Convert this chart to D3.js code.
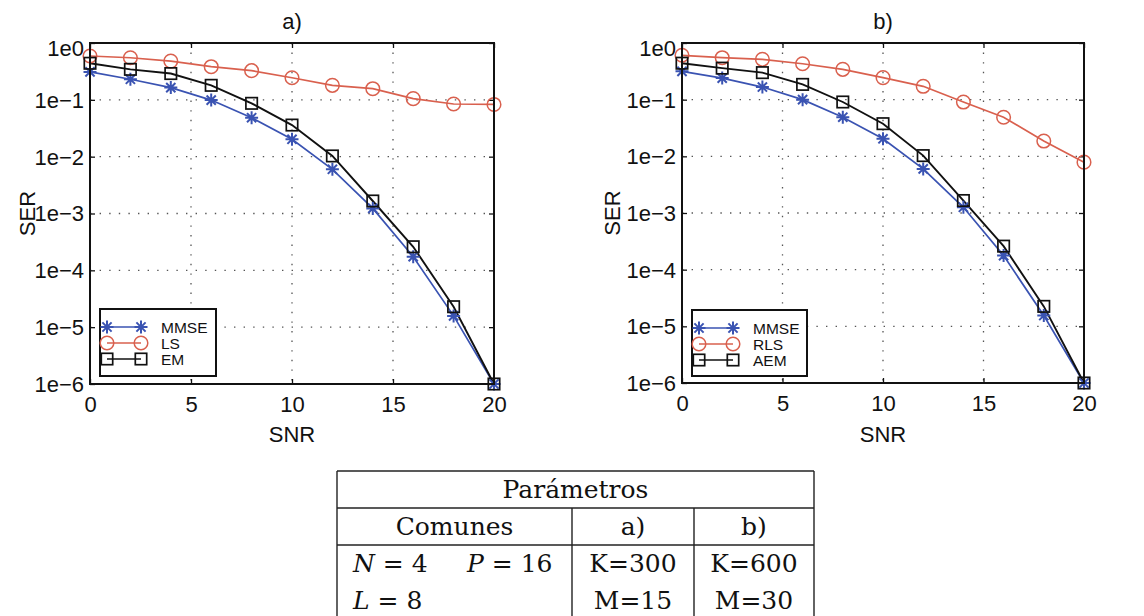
<!DOCTYPE html>
<html><head><meta charset="utf-8">
<script src="https://cdn.jsdelivr.net/npm/d3@7"></script>
<style>body{margin:0;background:#fff}</style>
</head><body><svg id="c" width="1144" height="616"></svg>
<script>
const snr = [0,2,4,6,8,10,12,14,16,18,20];
const xTicks = [0,5,10,15,20];
const yTicks = [1,1e-1,1e-2,1e-3,1e-4,1e-5,1e-6];
const yTickLabels = ["1e0","1e\u22121","1e\u22122","1e\u22123","1e\u22124","1e\u22125","1e\u22126"];

const mmseA = [0.31,0.23,0.164,0.099,0.0485,0.0202,0.006,0.00123,1.74e-4,1.58e-5,1e-6];
const lsA   = [0.59,0.55,0.48,0.383,0.326,0.245,0.18,0.157,0.105,0.0845,0.083];
const emA   = [0.44,0.344,0.29,0.18,0.0868,0.036,0.0103,0.00166,2.6e-4,2.29e-5,1e-6];

const mmseB = [0.316,0.24,0.167,0.1,0.049,0.0204,0.006,0.00126,1.77e-4,1.55e-5,1e-6];
const rlsB  = [0.607,0.55,0.515,0.43,0.343,0.245,0.172,0.0907,0.049,0.0186,0.0079];
const aemB  = [0.44,0.36,0.3,0.186,0.091,0.0377,0.0103,0.00166,2.6e-4,2.25e-5,1e-6];

const namesA = ["MMSE","LS","EM"];
const namesB = ["MMSE","RLS","AEM"];
const titles = ["a)","b)"];
const xLabel = "SNR", yLabel = "SER";

const tableTitle = "Parámetros";
const tableHeader = ["Comunes","a)","b)"];
const tableColA = ["K=300","M=15"];
const tableColB = ["K=600","M=30"];

const BLUE = "#3a53b2", RED = "#d9604e", BLACK = "#111";
const sans = "'Liberation Sans', Arial, Helvetica, sans-serif";
const serif = "'DejaVu Serif', serif";
const FS = 22;

const svg = d3.select("#c");
svg.append("rect").attr("width",1144).attr("height",616).attr("fill","#fff");

const panels = [
  {L:90, R:494, T:43, B:384, title:titles[0], series:[mmseA,lsA,emA], names:namesA, leg:{x:100,y:309,w:116,h:67}, ylabX:27},
  {L:682, R:1084, T:43, B:383, title:titles[1], series:[mmseB,rlsB,aemB], names:namesB, leg:{x:692,y:310,w:115,h:66}, ylabX:612}
];
const colors = [BLUE, RED, BLACK];
const markers = ["star","circle","square"];

function drawMarker(g, type, cx, cy, color){
  if(type==="star"){
    const s=6.5, d=4.6;
    g.append("path").attr("d",`M${cx-s},${cy}L${cx+s},${cy}M${cx},${cy-s}L${cx},${cy+s}M${cx-d},${cy-d}L${cx+d},${cy+d}M${cx-d},${cy+d}L${cx+d},${cy-d}`)
      .attr("stroke",color).attr("stroke-width",2).attr("fill","none");
  } else if(type==="circle"){
    g.append("circle").attr("cx",cx).attr("cy",cy).attr("r",6.8).attr("fill","none").attr("stroke",color).attr("stroke-width",1.5);
  } else {
    g.append("rect").attr("x",cx-5.7).attr("y",cy-5.7).attr("width",11.4).attr("height",11.4).attr("fill","none").attr("stroke",color).attr("stroke-width",1.7);
  }
}

panels.forEach(p=>{
  const x = d3.scaleLinear().domain([0,20]).range([p.L,p.R]);
  const y = d3.scaleLog().domain([1e-6,1]).range([p.B,p.T]);
  const g = svg.append("g");
  // grid
  xTicks.slice(1,-1).forEach(v=>{
    g.append("line").attr("x1",x(v)).attr("x2",x(v)).attr("y1",p.T).attr("y2",p.B)
      .attr("stroke","#555").attr("stroke-width",1.3).attr("stroke-dasharray","1.4,8.2");
  });
  yTicks.slice(1,-1).forEach(v=>{
    g.append("line").attr("x1",p.L).attr("x2",p.R).attr("y1",y(v)).attr("y2",y(v))
      .attr("stroke","#555").attr("stroke-width",1.3).attr("stroke-dasharray","1.4,8.2");
  });
  // axes with inner ticks
  const ax = g.append("g").attr("transform",`translate(0,${p.B})`).call(d3.axisBottom(x).tickValues(xTicks).tickSizeInner(-5).tickSizeOuter(0).tickPadding(12));
  const axT = g.append("g").attr("transform",`translate(0,${p.T})`).call(d3.axisTop(x).tickValues(xTicks).tickSizeInner(-5).tickSizeOuter(0).tickFormat(""));
  const ay = g.append("g").attr("transform",`translate(${p.L},0)`).call(d3.axisLeft(y).tickValues(yTicks).tickSizeInner(-5).tickSizeOuter(0).tickPadding(6).tickFormat((d,i)=>yTickLabels[i]));
  const ayR = g.append("g").attr("transform",`translate(${p.R},0)`).call(d3.axisRight(y).tickValues(yTicks).tickSizeInner(-5).tickSizeOuter(0).tickFormat(""));
  [ax,axT,ay,ayR].forEach(a=>{
    a.select(".domain").remove();
    a.selectAll(".tick line").attr("stroke","#111").attr("stroke-width",1.3);
    a.selectAll("text").attr("font-family",sans).attr("font-size",FS).attr("fill","#111");
  });
  ay.selectAll(".tick text").attr("dy",(d)=> d===1 ? "0.55em" : "0.34em");
  ax.selectAll(".tick text").attr("dy","0.71em");
  // data
  const line = d3.line().x((d,i)=>x(snr[i])).y(d=>y(d));
  p.series.forEach((s,k)=>{
    g.append("path").attr("d",line(s)).attr("fill","none").attr("stroke",colors[k]).attr("stroke-width",k===2?1.9:1.7);
  });
  p.series.forEach((s,k)=>{
    s.forEach((v,i)=>drawMarker(g,markers[k],x(snr[i]),y(v),colors[k]));
  });
  // frame
  g.append("rect").attr("x",p.L).attr("y",p.T).attr("width",p.R-p.L).attr("height",p.B-p.T)
    .attr("fill","none").attr("stroke","#111").attr("stroke-width",2);
  // title & labels
  g.append("text").attr("x",(p.L+p.R)/2).attr("y",29).attr("text-anchor","middle").attr("font-family",sans).attr("font-size",FS).attr("fill","#111").text(p.title);
  g.append("text").attr("x",(p.L+p.R)/2).attr("y",442).attr("text-anchor","middle").attr("font-family",sans).attr("font-size",FS).attr("fill","#111").text(xLabel);
  g.append("text").attr("transform",`translate(${p.ylabX+8},${(p.T+p.B)/2}) rotate(-90)`).attr("text-anchor","middle").attr("font-family",sans).attr("font-size",FS).attr("fill","#111").text(yLabel);
  // legend
  const lg = g.append("g");
  lg.append("rect").attr("x",p.leg.x).attr("y",p.leg.y).attr("width",p.leg.w).attr("height",p.leg.h).attr("fill","#fff").attr("stroke","#111").attr("stroke-width",2);
  p.names.forEach((n,k)=>{
    const yy = p.leg.y + 18 + k*16;
    const x1 = p.leg.x+7, x2 = p.leg.x+41;
    lg.append("line").attr("x1",x1).attr("x2",x2).attr("y1",yy).attr("y2",yy).attr("stroke",colors[k]).attr("stroke-width",1.7);
    drawMarker(lg,markers[k],x1,yy,colors[k]);
    drawMarker(lg,markers[k],x2,yy,colors[k]);
    lg.append("text").attr("x",p.leg.x+61).attr("y",yy+5.5).attr("font-family",sans).attr("font-size",15.5).attr("fill","#111").text(n);
  });
});

// table
const tb = svg.append("g");
const tL=337, tR=814, c1=572, c2=694, rT=471, r1=508, r2=545, rB=640;
const ls = (x1,y1,x2,y2)=>tb.append("line").attr("x1",x1).attr("y1",y1).attr("x2",x2).attr("y2",y2).attr("stroke","#222").attr("stroke-width",1.4);
ls(tL,rT,tR,rT); ls(tL,r1,tR,r1); ls(tL,r2,tR,r2);
ls(tL,rT,tL,rB); ls(tR,rT,tR,rB); ls(c1,r1,c1,rB); ls(c2,r1,c2,rB);
const TFS = 25;
const tt = (x,y,txt)=>tb.append("text").attr("x",x).attr("y",y).attr("text-anchor","middle").attr("font-family",serif).attr("font-size",TFS).attr("fill","#111").text(txt);
tt((tL+tR)/2, 498, tableTitle);
tt((tL+c1)/2, 535, tableHeader[0]);
tt((c1+c2)/2, 535, tableHeader[1]);
tt((c2+tR)/2, 535, tableHeader[2]);
[tableColA, tableColB].forEach((col,ci)=>{
  const cx = ci===0 ? (c1+c2)/2 : (c2+tR)/2;
  col.forEach((s,ri)=>tt(cx, 572+ri*37, s));
});
// math cells
function mathCell(x,y,v,val){
  const t = tb.append("text").attr("x",x).attr("y",y).attr("font-family",serif).attr("font-size",TFS).attr("fill","#111");
  t.append("tspan").attr("font-style","italic").text(v);
  t.append("tspan").text(" = "+val);
}
mathCell(353,572,"N","4");
mathCell(467,572,"P","16");
mathCell(353,609,"L","8");
</script></body></html>
